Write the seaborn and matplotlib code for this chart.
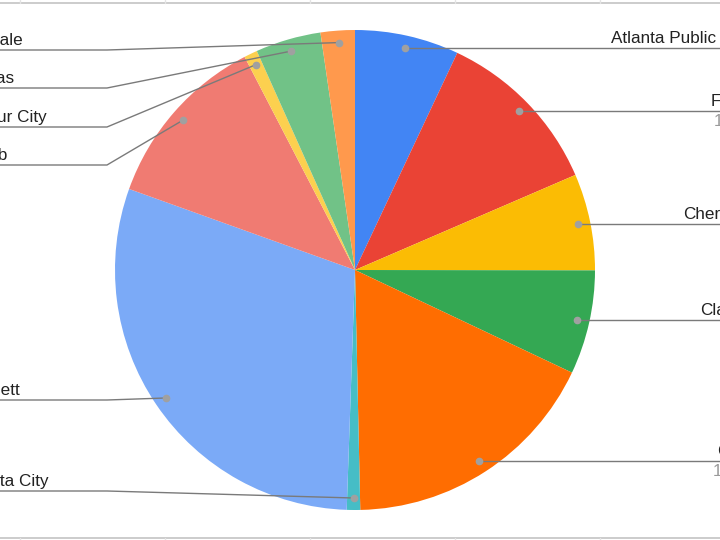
import matplotlib
matplotlib.use("Agg")
import matplotlib.pyplot as plt
import seaborn as sns
import numpy as np

# ---- data ----
districts = ["Atlanta Public Schools", "Fulton", "Cherokee", "Clayton", "Cobb",
             "Marietta City", "Gwinnett", "DeKalb", "Decatur City", "Douglas", "Rockdale"]
shares = [7.0, 11.5, 6.5, 7.0, 17.6, 0.9, 29.9, 11.9, 0.9, 4.4, 2.3]
colors = ["#4285F4", "#EA4335", "#FBBC04", "#34A853", "#FF6D01", "#46BDC6",
          "#7BAAF7", "#F07B72", "#FCD04F", "#71C287", "#FF994D"]
# heights (px from top) of the leader lines of the left-hand labels
left_line_y = {"Marietta City": 491, "Gwinnett": 400, "DeKalb": 165,
               "Decatur City": 127, "Douglas": 88, "Rockdale": 50}

sns.set_theme(style="white")
plt.rcParams["font.family"] = ["Liberation Sans", "DejaVu Sans"]

W, H = 720, 540
fig = plt.figure(figsize=(7.2, 5.4), dpi=100)
ax = fig.add_axes([0, 0, 1, 1])

cx, cy, R = 355, 270, 240
palette = sns.color_palette(colors)
wedges, _ = ax.pie(shares, colors=palette, startangle=90, counterclock=False,
                   center=(cx, cy), radius=R, wedgeprops=dict(linewidth=0))

ax.set_xlim(0, W)
ax.set_ylim(0, H)
ax.set_aspect("equal")
ax.axis("off")

FS = 12.3
line_col = "#7a7a7a"
dot_col = "#a0a0a0"
name_col = "#222222"
val_col = "#9a9a9a"


def trunc(s, n=17):
    return s if len(s) <= n else s[:n] + "\u2026"


for w, name, sh in zip(wedges, districts, shares):
    mid = np.deg2rad((w.theta1 + w.theta2) / 2)
    dx = cx + 0.95 * R * np.cos(mid)
    dy = cy + 0.95 * R * np.sin(mid)
    ax.plot([dx], [dy], "o", color=dot_col, markersize=4.5, zorder=5)
    if np.cos(mid) > 0:
        ly = dy
        ax.plot([dx, W + 50], [ly, ly], color=line_col, lw=1.0, zorder=4,
                clip_on=False)
        ax.text(758, ly + 5, trunc(name), ha="right", va="baseline",
                fontsize=FS, color=name_col)
        if sh >= 10:
            ax.text(761, ly - 14.5, f"{sh:.1f}%", ha="right", va="baseline",
                    fontsize=FS, color=val_col)
    else:
        ly = H - left_line_y[name]
        ax.plot([-60, 107, dx], [ly, ly, dy], color=line_col, lw=1.0, zorder=4,
                clip_on=False)
        ax.text(-48, ly + 5, trunc(name), ha="left", va="baseline",
                fontsize=FS, color=name_col)
        if sh >= 10:
            ax.text(-48, ly - 14.5, f"{sh:.1f}%", ha="left", va="baseline",
                    fontsize=FS, color=val_col)

# spreadsheet cell borders around the chart
grid_col = "#c8c8c8"
ax.plot([0, W], [H - 3, H - 3], color=grid_col, lw=1.3, clip_on=False)
ax.plot([0, W], [2.5, 2.5], color=grid_col, lw=1.3, clip_on=False)
for gx in [20, 165, 310, 455, 600]:
    ax.plot([gx, gx], [H - 3, H], color="#e4e4e4", lw=1.0, clip_on=False)
    ax.plot([gx, gx], [0, 2.5], color="#e4e4e4", lw=1.0, clip_on=False)

fig.savefig("out.png", dpi=100)
